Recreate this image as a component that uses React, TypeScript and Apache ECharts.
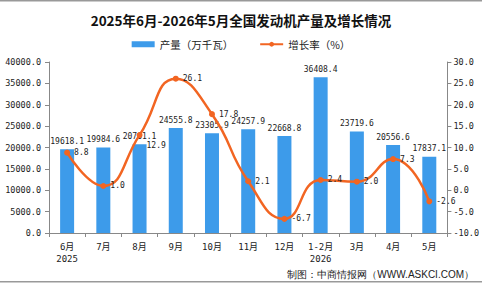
import React, { useEffect, useRef } from "react";
import * as echarts from "echarts";

const categories = ["6月\n2025", "7月", "8月", "9月", "10月", "11月", "12月", "1-2月\n2026", "3月", "4月", "5月"];
const production = [19618.1, 19984.6, 20761.1, 24555.8, 23305.9, 24257.9, 22668.8, 36408.4, 23719.6, 20556.6, 17837.1];
const growth = [8.8, 1.0, 12.9, 26.1, 17.8, 2.1, -6.7, 2.4, 2.0, 7.3, -2.6];

const MONO = "'DejaVu Sans Mono', 'Noto Sans CJK SC', monospace";
const CJK = "'Noto Sans CJK SC', sans-serif";

export default function App() {
  const ref = useRef<HTMLDivElement>(null);
  useEffect(() => {
    const chart = echarts.init(ref.current!, null, { renderer: "svg" });
    const growthData = growth.map((v, i) =>
      i === 2 ? { value: v, label: { offset: [0, 10] } } : v
    );
    chart.setOption({
      animation: false,
      backgroundColor: "#ffffff",
      title: {
        text: "2025年6月-2026年5月全国发动机产量及增长情况",
        left: "center",
        top: 8,
        textStyle: { fontSize: 13.5, fontWeight: "bold", color: "#111", fontFamily: CJK },
      },
      legend: {
        top: 34,
        left: "center",
        itemWidth: 23,
        itemHeight: 6,
        itemGap: 26,
        textStyle: { fontSize: 10.5, color: "#222", fontFamily: CJK },
        data: [
          { name: "产量（万千瓦）", icon: "rect" },
          { name: "增长率（%）" },
        ],
      },
      grid: { left: 49, right: 32, top: 62, bottom: 51 },
      xAxis: {
        type: "category",
        data: categories,
        axisLine: { lineStyle: { color: "#888" } },
        axisTick: { show: true, alignWithLabel: false, length: 4, lineStyle: { color: "#888" } },
        axisLabel: { fontSize: 9, color: "#222", fontFamily: MONO, lineHeight: 12, margin: 8, interval: 0 },
      },
      yAxis: [
        {
          type: "value",
          min: 0,
          max: 40000,
          interval: 5000,
          splitLine: { show: false },
          axisLine: { show: true, lineStyle: { color: "#888" } },
          axisTick: { show: true, length: 4, lineStyle: { color: "#888" } },
          axisLabel: {
            fontSize: 8.5,
            color: "#222",
            fontFamily: MONO,
            margin: 8,
            formatter: (v: number) => v.toFixed(1),
          },
        },
        {
          type: "value",
          min: -10,
          max: 30,
          interval: 5,
          splitLine: { show: false },
          axisLine: { show: true, lineStyle: { color: "#888" } },
          axisTick: { show: true, length: 4, lineStyle: { color: "#888" } },
          axisLabel: {
            fontSize: 8.5,
            color: "#222",
            fontFamily: MONO,
            margin: 6,
            formatter: (v: number) => v.toFixed(1),
          },
        },
      ],
      series: [
        {
          name: "产量（万千瓦）",
          type: "bar",
          data: production,
          barWidth: 14,
          itemStyle: { color: "#3D9BEA" },
          label: {
            show: true,
            position: "top",
            distance: 4,
            fontSize: 8,
            color: "#222",
            fontFamily: MONO,
            formatter: (p: any) => Number(p.value).toFixed(1),
          },
        },
        {
          name: "增长率（%）",
          type: "line",
          yAxisIndex: 1,
          data: growthData,
          smooth: 0.5,
          symbol: "circle",
          symbolSize: 6,
          lineStyle: { color: "#F26522", width: 2.5 },
          itemStyle: { color: "#F26522" },
          label: {
            show: true,
            position: "right",
            distance: 4,
            fontSize: 8,
            color: "#222",
            fontFamily: MONO,
            formatter: (p: any) => Number(p.value).toFixed(1),
          },
        },
      ],
      graphic: [
        { type: "rect", left: 0, top: 0, shape: { width: 482, height: 1.5 }, style: { fill: "#999" } },
        { type: "rect", left: 0, top: 281, shape: { width: 482, height: 1.5 }, style: { fill: "#999" } },
        {
          type: "text",
          right: 8,
          top: 269,
          style: { text: "制图：中商情报网（WWW.ASKCI.COM）", fontSize: 10, fill: "#222", font: "10px " + MONO },
        },
      ],
    });
    return () => chart.dispose();
  }, []);
  return <div ref={ref} style={{ position: "fixed", left: 0, top: 0, width: 482, height: 284 }} />;
}
